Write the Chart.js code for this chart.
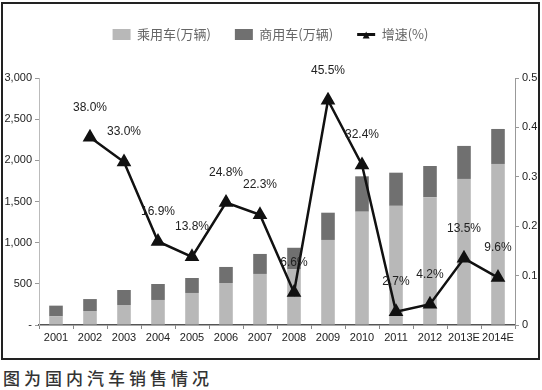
<!DOCTYPE html>
<html>
<head>
<meta charset="utf-8">
<script src="https://cdn.jsdelivr.net/npm/chart.js@4/dist/chart.umd.min.js"></script>
<style>
  html, body { margin: 0; padding: 0; background: #fff; width: 542px; height: 390px; overflow: hidden; }
  #box { position: absolute; left: 1px; top: 2px; width: 535px; height: 354px; border: 2px solid #222; }
  #box canvas { display: block; }
  #caption { position: absolute; left: 3px; top: 365px; font-family: "Noto Sans CJK SC", sans-serif; font-weight: 500; font-size: 17px; letter-spacing: 4px; color: #333; }
</style>
</head>
<body>
<div id="box"><canvas id="c" width="535" height="354"></canvas></div>
<div id="caption">图为国内汽车销售情况</div>
<script>
const categories = ['2001','2002','2003','2004','2005','2006','2007','2008','2009','2010','2011','2012','2013E','2014E'];
const passenger = [105, 170, 243, 304, 389, 510, 620, 675, 1033, 1376, 1447, 1550, 1774, 1956];
const commercial = [130, 145, 182, 194, 182, 195, 243, 263, 331, 430, 403, 381, 401, 425];
const growth = [null, 0.380, 0.330, 0.169, 0.138, 0.248, 0.223, 0.066, 0.455, 0.324, 0.027, 0.042, 0.135, 0.096];
const growthLabels = [null, '38.0%', '33.0%', '16.9%', '13.8%', '24.8%', '22.3%', '6.6%', '45.5%', '32.4%', '2.7%', '4.2%', '13.5%', '9.6%'];
const seriesNames = ['乘用车(万辆)', '商用车(万辆)', '增速(%)'];

const numFont = '"Liberation Sans", Arial, sans-serif';

const labelPlugin = {
  id: 'growthLabels',
  afterDatasetsDraw(chart) {
    const meta = chart.getDatasetMeta(2);
    const ctx = chart.ctx;
    ctx.save();
    ctx.font = '12px ' + numFont;
    ctx.fillStyle = '#222';
    ctx.textAlign = 'center';
    ctx.textBaseline = 'middle';
    meta.data.forEach((pt, i) => {
      if (growthLabels[i] == null) return;
      ctx.fillText(growthLabels[i], pt.x, pt.y - 30);
    });
    ctx.restore();
  },
  afterDraw(chart) {
    // small triangle marker on the line legend symbol
    const lg = chart.legend;
    if (!lg || !lg.legendHitBoxes || !lg.legendItems) return;
    const idx = lg.legendItems.findIndex(it => it.datasetIndex === 2);
    if (idx < 0) return;
    const hb = lg.legendHitBoxes[idx];
    const cx = hb.left + 9;
    const cy = hb.top + hb.height / 2;
    const ctx = chart.ctx;
    ctx.save();
    ctx.fillStyle = '#111';
    ctx.beginPath();
    ctx.moveTo(cx, cy - 3);
    ctx.lineTo(cx + 3.5, cy + 4);
    ctx.lineTo(cx - 3.5, cy + 4);
    ctx.closePath();
    ctx.fill();
    ctx.restore();
  }
};

const legendSpace = {
  id: 'legendSpace',
  beforeInit(chart) {
    const lg = chart.legend;
    const orig = lg.fit;
    lg.fit = function () { orig.call(this); this.height = 74; };
  }
};

new Chart(document.getElementById('c'), {
  type: 'bar',
  data: {
    labels: categories,
    datasets: [
      { label: seriesNames[0], data: passenger, backgroundColor: '#b8b8b8', yAxisID: 'y', stack: 's', order: 2, pointStyle: 'rect', barPercentage: 0.4, categoryPercentage: 1 },
      { label: seriesNames[1], data: commercial, backgroundColor: '#707070', yAxisID: 'y', stack: 's', order: 2, pointStyle: 'rect', barPercentage: 0.4, categoryPercentage: 1 },
      { type: 'line', label: seriesNames[2], data: growth, yAxisID: 'y1', borderColor: '#111', backgroundColor: '#111', borderWidth: 2.5, pointStyle: 'triangle', pointRadius: 6, pointBackgroundColor: '#111', pointBorderColor: '#111', tension: 0, order: 0, spanGaps: false }
    ]
  },
  options: {
    responsive: false,
    animation: false,
    devicePixelRatio: 1,
    layout: { padding: { top: 0, left: 0, right: 0, bottom: 0 } },
    plugins: {
      tooltip: { enabled: false },
      legend: {
        position: 'top',
        labels: {
          sort: (a, b) => a.datasetIndex - b.datasetIndex,
          usePointStyle: true,
          pointStyleWidth: 18,
          boxHeight: 11,
          padding: 24,
          color: '#666',
          font: { family: '"Noto Sans CJK SC", sans-serif', size: 13 },
          generateLabels: chart => {
            const items = Chart.defaults.plugins.legend.labels.generateLabels(chart);
            items.forEach(it => {
              if (it.datasetIndex === 2) { it.pointStyle = 'line'; it.lineWidth = 3; it.strokeStyle = '#111'; }
              else { it.lineWidth = 0; }
            });
            return items;
          }
        }
      }
    },
    scales: {
      x: {
        stacked: true,
        grid: { display: true, drawOnChartArea: false, drawTicks: true, tickLength: 4, color: '#888' },
        border: { color: '#555', width: 1.5 },
        ticks: { color: '#222', font: { family: numFont, size: 11 }, maxRotation: 0, autoSkip: false, padding: 2 },
        afterFit: s => { s.height = 33; }
      },
      y: {
        stacked: true,
        position: 'left',
        min: 0, max: 3000,
        ticks: { stepSize: 500, color: '#222', font: { family: numFont, size: 11 }, padding: 3,
          callback: v => v === 0 ? '-' : v.toLocaleString('en-US') },
        grid: { drawOnChartArea: false, drawTicks: true, tickLength: 4, color: '#999' },
        border: { color: '#bbb', width: 1 },
        afterFit: s => { s.width = 36; }
      },
      y1: {
        position: 'right',
        min: 0, max: 0.5,
        ticks: { stepSize: 0.1, color: '#222', font: { family: numFont, size: 11 }, padding: 3,
          callback: v => v === 0 ? '0' : v.toFixed(1) },
        grid: { drawOnChartArea: false, drawTicks: true, tickLength: 4, color: '#999' },
        border: { color: '#999', width: 1 },
        afterFit: s => { s.width = 23; }
      }
    }
  },
  plugins: [labelPlugin, legendSpace]
});
</script>
</body>
</html>
